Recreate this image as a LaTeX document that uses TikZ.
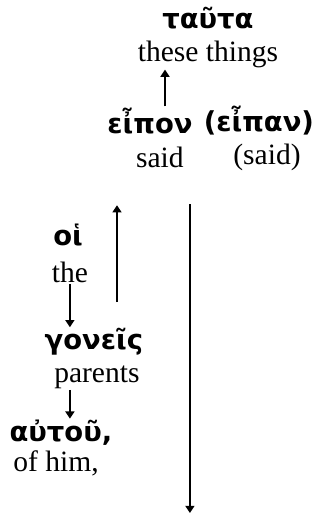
\documentclass[tikz,border=0pt]{standalone}
\usepackage{fontspec}
\setmainfont{Liberation Serif}
\newfontfamily\greekfont{DejaVu Sans}
\usetikzlibrary{arrows.meta,calc,positioning}

\begin{document}
\begin{tikzpicture}[
    word/.style={inner sep=1pt, font=\greekfont\bfseries\fontsize{26}{30}\selectfont},
    gloss/.style={inner sep=1pt, font=\fontsize{28}{32}\selectfont},
    link/.style={-{Triangle[length=2.4mm,width=3mm]}, line width=1.5pt}
  ]
    \useasboundingbox (0,0) rectangle (10.7,-17.1);

    % top of the chain
    \node[word]  (tauta)  at (6.93,-0.62) {ταῦτα};
    \node[gloss] (these)  at (6.93,-1.83) {these things};
    \node[word]  (eipon)  at (5.0,-4.02) {εἶπον};
    \node[word]  (eipan)  at (8.63,-4.02) {(εἶπαν)};
    \node[gloss] (said)   at (5.33,-5.25) {said};
    \node[gloss] (saidalt) at (8.9,-5.25) {(said)};

    % subject phrase
    \node[word]  (hoi)     at (2.27,-7.85) {οἱ};
    \node[gloss] (the)     at (2.33,-9.07) {the};
    \node[word]  (goneis)  at (3.13,-11.4) {γονεῖς};
    \node[gloss] (parents) at (3.23,-12.57) {parents};
    \node[word]  (autou)   at (2.03,-14.42) {αὐτοῦ,};
    \node[gloss] (ofhim)   at (1.87,-15.45) {of him,};

    \coordinate (upfoot)   at (3.9,-10.07);
    \coordinate (downhead) at (6.33,-6.8);

    \draw[link] ([xshift=-1.43cm]these.south |- eipon.north) -- ([xshift=-1.43cm]these.south);
    \draw[link] (upfoot) -- ++(0,3.23);
    \draw[link] (the.south) -- (the.south |- goneis.north);
    \draw[link] ([xshift=-0.9cm]parents.south) -- ([xshift=-0.9cm]parents.south |- autou.north);
    \draw[link] (downhead) -- (downhead |- 0,-17.1);
\end{tikzpicture}
\end{document}
